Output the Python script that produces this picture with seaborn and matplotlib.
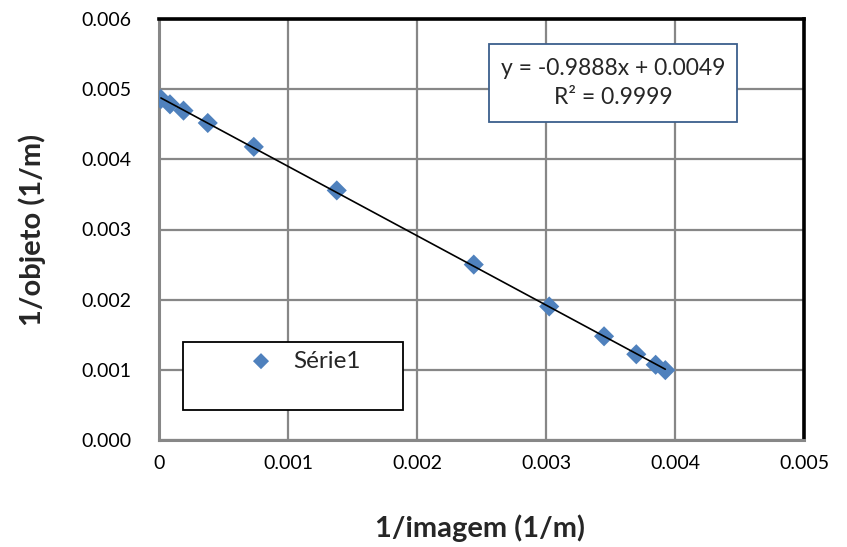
import numpy as np
import pandas as pd
import matplotlib
matplotlib.use("Agg")
import matplotlib.pyplot as plt
from matplotlib.patches import Rectangle
import seaborn as sns

# Lens measurements: inverse image distance vs inverse object distance
inv_imagem = [0.000015, 0.000085, 0.000190, 0.000378, 0.000735, 0.001378,
              0.002440, 0.003025, 0.003450, 0.003700, 0.003850, 0.003925]
inv_objeto = [0.004859, 0.004784, 0.004694, 0.004518, 0.004178, 0.003557,
              0.002500, 0.001903, 0.001478, 0.001222, 0.001072, 0.0009955]
serie = "Série1"
x_ticks = [0, 0.001, 0.002, 0.003, 0.004, 0.005]
x_tick_labels = ["0", "0.001", "0.002", "0.003", "0.004", "0.005"]
y_ticks = [0.000, 0.001, 0.002, 0.003, 0.004, 0.005, 0.006]
y_tick_labels = ["0.000", "0.001", "0.002", "0.003", "0.004", "0.005", "0.006"]

df = pd.DataFrame({"x": inv_imagem, "y": inv_objeto})

sns.set_style("white")
plt.rcParams["font.family"] = ["Lato", "DejaVu Sans"]

grid_gray = "#878787"
blue = "#4F81BD"

fig = plt.figure(figsize=(8.47, 5.47), dpi=100)
ax = fig.add_axes([159 / 847, 1 - 440 / 547, 645 / 847, 421 / 547])

sns.regplot(data=df, x="x", y="y", ax=ax, ci=None, truncate=True,
            marker="D", color=blue, label=serie,
            scatter_kws=dict(s=105, color=blue, edgecolors="none", alpha=1, zorder=3),
            line_kws=dict(color="black", lw=1.2, zorder=4))

ax.set_xlim(0, 0.005)
ax.set_ylim(0, 0.006)
ax.set_xticks(x_ticks)
ax.set_xticklabels(x_tick_labels)
ax.set_yticks(y_ticks)
ax.set_yticklabels(y_tick_labels)
ax.grid(True, color=grid_gray, lw=1.6)
ax.set_axisbelow(True)

ax.tick_params(axis="both", which="major", direction="out", length=5, width=1.5,
               color=grid_gray, labelsize=14, labelcolor="black")
ax.tick_params(axis="x", pad=6)
ax.tick_params(axis="y", pad=15)

for side in ["left", "bottom"]:
    ax.spines[side].set_color(grid_gray)
    ax.spines[side].set_linewidth(2.2)
for side in ["top", "right"]:
    ax.spines[side].set_color("black")
    ax.spines[side].set_linewidth(2.6)

ax.set_xlabel("1/imagem (1/m)", fontsize=21, fontweight="bold")
ax.set_ylabel("1/objeto (1/m)", fontsize=21, fontweight="bold")
ax.xaxis.set_label_coords(0.498, -0.176)
ax.yaxis.set_label_coords(-0.175, 0.5)

# Linear trendline equation from the fitted coefficients
slope, intercept = np.polyfit(df["x"], df["y"], 1)
pred = slope * df["x"] + intercept
r2 = 1 - np.sum((df["y"] - pred) ** 2) / np.sum((df["y"] - df["y"].mean()) ** 2)
eq = f"y = {slope:.4f}x + {intercept:.4f}\nR² = {r2:.4f}"
ax.add_patch(Rectangle((0.5116, 0.7553), 0.3845, 0.1853, transform=ax.transAxes,
                       fc="white", ec="#3C5F8C", lw=1.3, zorder=6))
ax.text(0.704, 0.848, eq, transform=ax.transAxes, ha="center", va="center",
        multialignment="center", fontsize=16.5, linespacing=1.45, zorder=7)

# Legend box
ax.add_patch(Rectangle((0.0372, 0.0713), 0.3411, 0.1615, transform=ax.transAxes,
                       fc="white", ec="black", lw=1.3, zorder=5))
handles, labels = ax.get_legend_handles_labels()
leg = ax.legend(handles[:1], labels[:1], loc="center left",
                bbox_to_anchor=(0.1393, 0.1876), frameon=False, fontsize=17.5,
                handlelength=1.0, handletextpad=0.82, borderpad=0,
                borderaxespad=0, markerscale=0.8)
leg.set_zorder(7)

fig.savefig("out.png", dpi=100, facecolor="white")
